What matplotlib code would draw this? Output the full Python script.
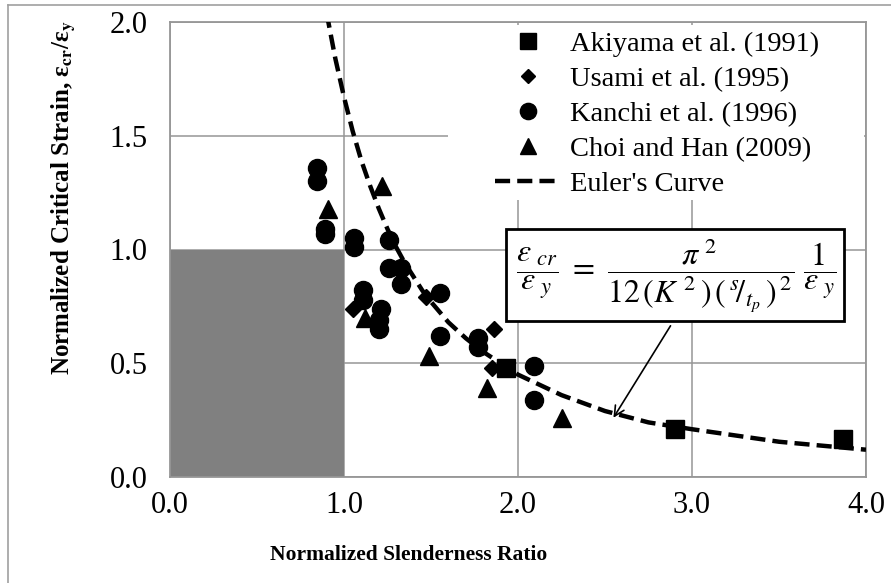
import matplotlib
matplotlib.use("Agg")
import matplotlib.pyplot as plt
from matplotlib.patches import Rectangle
from matplotlib.lines import Line2D

plt.rcParams['font.family'] = ['Liberation Serif', 'DejaVu Serif']
plt.rcParams['mathtext.fontset'] = 'stix'

# test data
akiyama_x = [1.93, 2.90, 3.87]
akiyama_y = [0.48, 0.21, 0.165]

usami_x = [1.05, 1.47, 1.86, 1.85]
usami_y = [0.74, 0.79, 0.65, 0.48]

kanchi_x = [0.845, 0.845, 0.89, 0.89, 1.06, 1.06, 1.26, 1.26, 1.33, 1.33, 1.11,
            1.11, 1.21, 1.20, 1.20, 1.55, 1.55, 1.77, 1.77, 2.09, 2.09]
kanchi_y = [1.36, 1.30, 1.09, 1.07, 1.05, 1.01, 1.04, 0.92, 0.92, 0.85, 0.82,
            0.78, 0.74, 0.69, 0.65, 0.81, 0.62, 0.61, 0.57, 0.49, 0.34]

choi_x = [0.91, 1.22, 1.12, 1.49, 1.82, 2.25]
choi_y = [1.18, 1.28, 0.70, 0.53, 0.39, 0.26]

# Euler's curve, points
euler_x = [0.90, 0.95, 1.0, 1.05, 1.1, 1.15, 1.2, 1.25, 1.3, 1.35, 1.4, 1.45, 1.5,
           1.6, 1.7, 1.8, 2.0, 2.25, 2.5, 2.75, 3.0, 3.5, 4.0]
euler_y = [2.04, 1.84, 1.67, 1.52, 1.39, 1.28, 1.18, 1.09, 1.01, 0.94, 0.88, 0.82,
           0.77, 0.68, 0.61, 0.55, 0.45, 0.36, 0.29, 0.24, 0.21, 0.155, 0.12]

x_ticks = [0.0, 1.0, 2.0, 3.0, 4.0]
y_ticks = [0.0, 0.5, 1.0, 1.5, 2.0]

grid_gray = '#969696'

fig = plt.figure(figsize=(8.91, 5.83), dpi=100)
ax = fig.add_axes([170 / 891, 106 / 583, 696 / 891, 455 / 583])

ax.set_xlim(0, 4)
ax.set_ylim(0, 2)
ax.set_xticks(x_ticks)
ax.set_yticks(y_ticks)
ax.set_xticklabels([f"{v:.1f}" for v in x_ticks])
ax.set_yticklabels([f"{v:.1f}" for v in y_ticks])
ax.tick_params(length=0, labelsize=22)
ax.tick_params(axis='x', pad=10)
ax.tick_params(axis='y', pad=16)
ax.set_axisbelow(True)
ax.grid(True, color=grid_gray, lw=1.1)
for s in ax.spines.values():
    s.set_color(grid_gray)
    s.set_linewidth(1.3)

# shaded region 0-1
ax.add_patch(Rectangle((0, 0), 1, 1, fc='#808080', ec='none', zorder=1))

ms = 13
ax.plot(akiyama_x, akiyama_y, 's', color='black', ms=ms, zorder=3,
        label='Akiyama et al. (1991)')
ax.plot(usami_x, usami_y, 'D', color='black', ms=8, zorder=3,
        label='Usami et al. (1995)')
ax.plot(kanchi_x, kanchi_y, 'o', color='black', ms=ms, zorder=3,
        label='Kanchi et al. (1996)')
ax.plot(choi_x, choi_y, '^', color='black', ms=ms, zorder=3,
        label='Choi and Han (2009)')
ax.plot(euler_x, euler_y, color='black', lw=3.2, dashes=(3.4, 1.6), zorder=4,
        label="Euler's Curve")

# white backdrop behind legend
ax.add_patch(Rectangle(((448 - 170) / 696, (477 - 200) / 455), 416 / 696, 175 / 455,
                       transform=ax.transAxes, fc='white', ec='none', zorder=1.5))
leg = ax.legend(loc='upper left', bbox_to_anchor=((495 - 170) / 696, (477 - 31) / 455),
                frameon=False, fontsize=20.5, borderpad=0, borderaxespad=0,
                handlelength=2.3, handletextpad=0.32, labelspacing=0.32,
                markerscale=0.9)
leg.set_zorder(5)

# equation box and arrow
eq = (r'$\,\dfrac{\varepsilon_{\ cr}}{\varepsilon_{\ y}}\ =\ '
      r'\dfrac{\pi^{\ 2}}{12\,(K^{\ 2}\,)\,(\,{}^{s}\!/{}_{t_p}\,)^{\,2}}'
      r'\ \dfrac{1}{\varepsilon_{\ y}}\,$')
ax.text(2.90, 0.886, eq, ha='center', va='center', fontsize=23, zorder=6,
        bbox=dict(boxstyle='square,pad=0.22', fc='white', ec='black', lw=2))
ax.annotate('', xy=(2.54, 0.25), xytext=(2.885, 0.675),
            arrowprops=dict(arrowstyle='->', lw=1.2, color='black',
                            mutation_scale=18), zorder=5)

ax.set_xlabel('Normalized Slenderness Ratio', fontsize=15.5, fontweight='bold',
              va='center')
ax.xaxis.set_label_coords((409 - 170) / 696, (477 - 555) / 455)
ax.set_ylabel(r'Normalized Critical Strain, ε$_{\mathbf{cr}}$/ε$_{\mathbf{y}}$',
              fontsize=18, fontweight='bold', va='center', ha='center')
ax.yaxis.set_label_coords((63 - 170) / 696, (477 - 198) / 455)

# outer chart border (left and top)
fig.add_artist(Line2D([8 / 891, 8 / 891], [0, 1 - 5 / 583], color='#a0a0a0', lw=1.2))
fig.add_artist(Line2D([8 / 891, 1], [1 - 5 / 583, 1 - 5 / 583], color='#a0a0a0', lw=1.2))

fig.savefig('out.png', dpi=100)
